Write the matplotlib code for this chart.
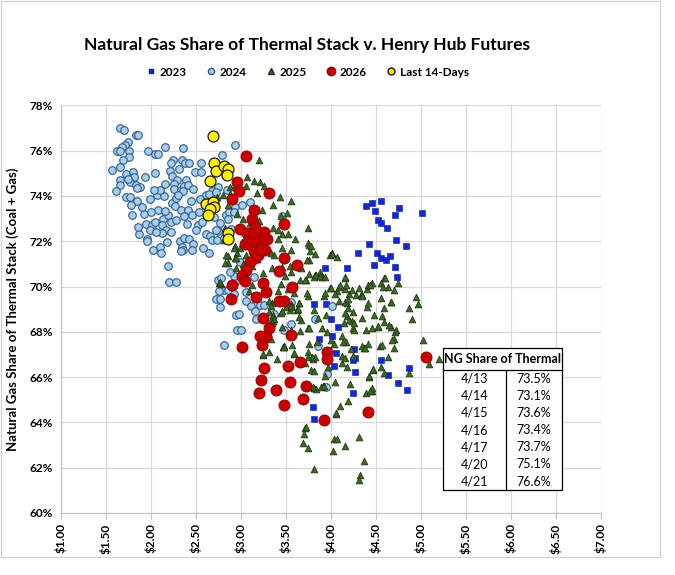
import matplotlib.pyplot as plt
import matplotlib.ticker as mtick
from matplotlib.patches import Rectangle
from matplotlib.lines import Line2D

plt.rcParams['font.family'] = ['Lato', 'DejaVu Sans']

# 2023 (squares)
p23 = [4.39, 4.46, 4.56, 4.49, 4.52, 4.56, 4.62, 4.71, 4.75, 5.01, 4.42, 4.72, 4.83, 4.30, 4.51,
       4.56, 4.61, 4.65, 4.48, 4.71, 4.73, 3.93, 4.18, 3.81, 3.94, 4.00, 4.08, 4.01, 3.87, 4.25,
       4.27, 4.05, 4.03, 4.24, 4.27, 4.24, 4.56, 4.63, 4.87, 4.74, 4.84, 3.80, 3.81]
s23 = [73.56, 73.67, 73.76, 73.33, 72.93, 72.79, 72.59, 73.14, 73.48, 73.26, 71.88, 72.04, 71.78, 71.48, 71.48,
       71.26, 71.16, 71.36, 70.93, 70.86, 70.40, 70.80, 70.80, 69.21, 69.21, 68.56, 68.22, 67.82, 67.70, 67.26,
       66.86, 67.05, 66.50, 66.76, 66.22, 65.30, 66.76, 66.10, 66.42, 65.74, 65.45, 64.69, 64.13]

# 2024 (light blue circles)
p24 = [1.65, 1.70, 1.83, 1.86, 1.74, 1.71, 1.68, 1.62, 1.66, 1.76, 1.76, 1.97, 2.04, 2.08, 2.15, 2.36, 2.24, 2.34,
       2.38, 2.42, 2.31, 2.22, 1.57, 1.66, 1.72, 1.80, 1.81, 1.66, 1.65, 1.61, 1.77, 1.83, 1.88, 1.84, 2.04, 2.21,
       2.23, 2.29, 2.39, 2.16, 2.25, 2.26, 2.33, 2.37, 2.41, 2.35, 2.49, 2.56, 2.56, 2.79, 2.93,
       1.72, 1.77, 1.84, 1.78, 1.79, 1.92, 2.07, 2.08, 1.94, 2.01, 1.99, 2.05, 2.13, 2.19, 2.23, 2.27, 2.33, 2.41,
       2.45, 2.37, 2.22, 2.12, 2.17, 2.22, 2.12, 1.96, 1.96, 2.02, 2.10, 2.11, 2.32, 2.37, 2.42, 2.47, 2.34, 2.36,
       2.33, 2.46, 2.58, 2.64, 2.61, 2.66, 2.68, 2.53, 2.61, 2.68, 2.74, 2.83, 2.87, 2.77, 2.74, 2.19, 2.20, 2.28,
       2.74, 2.81, 2.72, 2.77, 2.77, 2.94, 2.96, 2.81, 2.93,
       3.10, 3.45, 2.78, 2.75, 2.85, 2.92, 2.92, 3.06, 3.11, 3.21, 3.26, 3.17, 2.98, 3.00, 3.55, 3.48, 3.82, 4.01,
       3.86, 3.06, 3.16, 3.37, 3.96, 3.94, 3.56, 2.64, 2.72, 2.84, 2.93, 3.01, 2.92, 2.86, 2.72, 2.73, 2.81,
       1.90, 2.00, 2.14, 2.28, 1.87, 2.06, 2.18, 2.44,
       1.69, 1.74, 1.93, 2.10, 2.30, 2.47, 2.52, 1.99, 2.15, 2.28, 2.50, 2.57, 1.86, 2.03, 2.40, 2.55, 2.70, 2.89,
       2.99, 3.04, 2.88, 3.14]
s24 = [77.00, 76.90, 76.70, 76.70, 76.40, 76.25, 76.15, 76.00, 76.00, 76.00, 75.70, 76.00, 75.85, 75.85, 76.15, 76.10, 75.60, 75.60,
       75.45, 75.45, 75.20, 75.45, 75.15, 75.30, 74.95, 75.05, 74.85, 74.70, 74.50, 74.20, 74.60, 74.50, 74.40, 74.35, 75.00, 75.10,
       74.90, 74.70, 74.70, 74.55, 74.55, 74.30, 74.25, 74.45, 74.50, 74.20, 75.05, 75.05, 75.45, 75.80, 76.25,
       73.95, 73.95, 73.80, 73.60, 73.15, 73.20, 74.05, 73.40, 72.75, 72.70, 72.50, 72.85, 73.00, 73.15, 73.70, 73.55, 73.40, 73.40,
       73.15, 73.10, 72.85, 72.70, 72.50, 72.40, 72.35, 72.10, 72.00, 71.60, 71.75, 71.50, 72.00, 72.15, 72.10, 71.90, 71.75, 71.60,
       71.55, 71.60, 71.70, 71.50, 72.30, 72.25, 72.05, 73.30, 74.05, 74.20, 74.40, 73.15, 73.30, 72.80, 72.45, 70.90, 70.20, 70.20,
       70.30, 69.85, 69.45, 69.10, 69.45, 68.75, 68.10, 67.40, 70.20,
       73.74, 73.11, 70.38, 69.80, 69.84, 70.45, 69.65, 69.36, 69.14, 69.18, 69.20, 68.55, 68.77, 68.09, 68.34, 68.09, 68.55, 69.14,
       67.39, 69.78, 68.92, 68.81, 66.12, 65.56, 69.33, 74.10, 74.17, 74.25, 73.52, 73.60, 73.30, 73.00, 72.50, 72.06, 72.13,
       73.50, 73.30, 74.00, 73.90, 72.30, 72.40, 71.95, 73.80,
       75.60, 74.75, 74.85, 74.25, 74.05, 74.30, 72.70, 73.85, 73.35, 72.95, 72.50, 72.85, 72.65, 74.25, 72.75, 73.85, 73.05, 72.55,
       71.10, 70.85, 70.65, 70.40]

# 2025 (green triangles)
p25 = [3.20, 3.07, 3.14, 3.06, 3.21, 3.26, 3.18, 2.93, 3.43, 3.55, 3.36, 3.51, 3.44, 3.74, 3.35, 3.41, 3.45, 3.52,
       3.41, 3.60, 3.28, 3.33, 3.37, 3.45, 3.55, 3.74, 3.77, 3.75, 3.99, 4.07, 3.88, 3.82, 3.72, 3.65, 3.54, 3.56,
       3.49, 3.65, 3.34, 3.46, 3.52, 3.59, 3.55, 3.64, 3.62, 3.44, 3.35, 3.34, 3.41, 3.74, 3.74, 3.66, 3.90, 3.96,
       3.92, 3.99, 4.07, 4.15, 4.20, 4.28, 4.33, 4.18, 4.18, 4.14, 4.23, 4.24, 4.35, 2.93, 2.95, 2.85, 2.86, 2.93,
       2.78, 3.12, 3.48, 3.40, 3.31, 3.74, 3.82, 4.12, 4.24, 4.18,
       2.73, 2.80, 2.88, 2.81, 2.83, 2.82, 2.76, 2.94, 2.92, 2.94,
       4.94, 4.90, 4.87, 4.67, 4.59, 4.57, 4.52, 4.67, 4.70, 4.63, 4.56, 4.47, 4.42, 4.39, 4.46, 4.37, 4.17, 4.21,
       4.19, 4.06, 3.93, 4.04, 3.97, 3.80, 3.78, 3.91, 3.71, 3.59, 3.57, 3.47, 3.24, 3.33, 3.35, 3.31, 3.46, 3.56,
       3.75, 4.00, 4.13, 4.41, 4.25, 4.12, 4.20, 4.39, 4.35, 4.48, 4.40, 4.24, 4.19, 4.16, 4.09, 4.19, 3.94, 3.81,
       3.85, 3.67, 3.64, 3.54, 3.50, 3.64, 3.73, 3.93, 4.04, 4.09, 4.17, 4.31, 4.34, 4.40, 4.41, 4.45, 4.59, 4.55,
       4.63, 4.70, 4.74, 3.81, 3.90, 4.16, 3.75, 3.73, 3.75, 4.01, 3.67, 3.71, 3.57, 3.76, 3.79, 3.71, 3.89,
       3.72, 3.70, 3.69, 3.74, 4.03, 4.07, 4.02, 4.15, 4.31, 4.10, 4.06, 4.45, 4.43, 3.81, 3.83, 3.92, 4.37, 4.32,
       4.31, 3.81, 4.42, 4.59, 4.87, 4.70, 4.54, 4.57, 5.02, 5.09, 5.20, 4.38, 4.22, 4.12, 4.15, 4.03, 3.84, 3.81,
       3.59, 4.47, 4.71,
       2.77, 3.09, 3.31, 3.33, 3.37, 3.34, 3.33, 3.24, 3.48, 3.74, 3.80, 3.44, 3.56, 3.63, 3.46,
       2.88, 2.85, 2.95, 3.02, 2.82, 2.86, 3.10, 3.20, 3.23, 2.99, 3.06, 3.02, 3.12, 3.18, 3.24,
       4.97, 3.78, 3.82, 4.01, 4.16, 3.83, 3.88, 3.93, 4.00, 4.10, 4.23, 4.34, 4.43, 4.60, 4.58, 4.55,
       4.67, 4.41, 4.15, 4.25, 4.45, 4.52, 4.59, 4.64, 4.72, 4.68]
s25 = [75.59, 74.86, 74.66, 74.42, 74.61, 74.42, 74.13, 74.47, 73.96, 73.78, 73.59, 73.26, 73.11, 72.60, 72.57, 72.50, 72.31, 72.32,
       72.09, 72.09, 71.80, 71.47, 71.40, 71.69, 71.62, 71.91, 71.55, 71.18, 71.40, 71.30, 70.63, 70.53, 70.31, 70.31, 70.92, 70.63,
       70.48, 70.92, 70.82, 70.86, 69.87, 69.72, 69.21, 69.28, 68.95, 68.85, 68.48, 69.28, 69.80, 69.58, 68.15, 68.04, 68.19, 68.00,
       69.58, 69.94, 69.80, 69.91, 69.69, 69.62, 69.62, 69.28, 68.70, 68.41, 68.48, 68.19, 67.36, 71.80, 71.47, 71.33, 71.04, 71.26,
       70.13, 70.06, 67.39, 66.80, 67.10, 67.10, 66.88, 66.95, 66.95, 66.44,
       73.97, 74.05, 74.41, 72.06, 71.40, 71.03, 70.15, 71.25, 71.70, 70.80,
       69.56, 68.55, 69.04, 69.33, 69.04, 68.70, 68.22, 68.22, 67.70, 66.89, 66.44, 66.30, 66.00, 65.30, 65.38, 67.30, 67.56, 65.70,
       64.96, 64.37, 66.04, 65.78, 66.44, 66.81, 66.30, 65.63, 63.75, 67.04, 67.41, 67.33, 66.96, 68.52, 68.74, 68.89, 68.22, 68.07,
       68.15, 67.63, 67.56, 67.48, 68.07, 67.81, 68.52, 68.07, 68.59, 68.74, 69.08, 68.89, 69.04, 69.33, 69.38, 69.44, 68.74, 68.96,
       68.63, 68.52, 68.67, 68.96, 69.11, 69.26, 69.70, 69.70, 69.66, 69.97, 70.07, 69.93, 69.63, 69.88, 70.07, 70.15, 70.37, 70.15,
       70.00, 69.85, 70.15, 70.44, 70.40, 70.37, 70.55, 71.19, 71.85, 71.48, 70.81, 70.30, 69.11, 67.48, 66.89, 66.62, 65.56,
       63.81, 63.50, 63.07, 62.85, 63.26, 63.26, 62.74, 62.96, 63.37, 64.72, 64.42, 65.52, 65.40, 65.52, 65.47, 65.62, 62.31, 61.69,
       61.47, 61.94, 66.03, 66.18, 66.18, 67.27, 67.37, 67.42, 67.66, 66.58, 66.80, 67.27, 67.24, 66.61, 66.86, 67.45, 67.56, 66.29,
       67.08, 66.35, 68.00,
       70.19, 69.79, 69.35, 69.16, 68.56, 68.41, 67.67, 67.00, 67.33, 66.90, 65.57, 70.12, 69.16, 69.00, 68.93,
       74.10, 73.60, 73.20, 73.00, 72.60, 72.30, 72.80, 72.90, 73.40, 71.70, 71.40, 71.00, 70.90, 71.20, 70.60,
       69.23, 71.80, 71.44, 71.44, 70.44, 70.52, 70.47, 70.44, 69.93, 70.07, 69.85, 69.60, 70.07, 70.37, 69.97, 69.48,
       69.33, 69.26, 68.84, 68.37, 68.15, 68.27, 68.44, 68.30, 68.07, 67.66]

# 2026 (red circles)
p26 = [3.05, 2.95, 2.98, 3.31, 2.90, 3.14, 3.12, 3.15, 2.99, 3.07, 3.26, 3.29, 3.48, 3.04, 3.08, 3.17, 3.23, 3.14,
       3.19, 3.15, 3.10, 3.27, 3.48, 3.62, 3.06, 3.42, 3.01, 3.04, 3.24, 2.90, 3.57, 3.17, 3.28, 2.89, 3.42, 3.48,
       3.24, 3.31, 3.28, 3.21, 3.55, 3.23, 3.01, 3.96, 3.96, 3.65, 3.52, 3.26, 3.22, 3.20, 3.39, 3.54, 3.72, 3.69,
       3.48, 3.92, 4.41, 5.06, 3.11, 3.20, 3.13, 3.22, 3.16]
s26 = [75.75, 74.60, 74.20, 74.15, 73.85, 73.40, 73.00, 72.65, 72.55, 72.35, 72.40, 72.10, 72.75, 71.90, 72.00, 71.75, 71.90, 71.55,
       71.40, 71.25, 71.10, 71.60, 71.25, 70.95, 70.75, 70.70, 70.45, 70.25, 70.15, 70.05, 70.00, 69.55, 69.75, 69.45, 69.35, 69.35,
       68.60, 68.15, 67.80, 67.80, 67.85, 67.40, 67.35, 67.10, 66.80, 66.65, 66.50, 66.40, 65.88, 65.29, 65.44, 65.78, 65.63, 65.04,
       64.79, 64.12, 64.47, 66.90, 71.85, 72.20, 72.05, 71.60, 72.35]

# last 14 days (yellow)
p14 = [2.69, 2.70, 2.72, 2.81, 2.86, 2.84, 2.66, 2.61, 2.69, 2.70, 2.65, 2.63, 2.86, 2.86]
s14 = [76.63, 75.44, 75.10, 75.32, 75.18, 74.93, 74.66, 73.63, 73.72, 73.53, 73.43, 73.16, 72.35, 72.09]

tbl_dates = ['4/13', '4/14', '4/15', '4/16', '4/17', '4/20', '4/21']
tbl_vals = ['73.5%', '73.1%', '73.6%', '73.4%', '73.7%', '75.1%', '76.6%']

fig = plt.figure(figsize=(6.75, 5.75), dpi=100)
ax = fig.add_axes([61/675, 1-513/575, 540/675, 407.6/575])

ax.scatter(p23, s23, s=15, marker='s', c='#1228D8', edgecolors='#0A1A9A', linewidths=0.4, zorder=3)
ax.scatter(p24, s24, s=30, marker='o', c='#A9CDEB', edgecolors='#2B5E8E', linewidths=0.8, zorder=3)
ax.scatter(p25, s25, s=24, marker='^', c='#3B6A22', edgecolors='#1B2E10', linewidths=0.5, zorder=3)
ax.scatter(p26, s26, s=64, marker='o', c='#C80000', edgecolors='#8E0000', linewidths=0.6, zorder=4)
ax.scatter(p14, s14, s=62, marker='o', c='#FFF200', edgecolors='#1a1a1a', linewidths=0.9, zorder=5)

ax.set_xlim(1, 7)
ax.set_ylim(60, 78)
ax.set_xticks([1 + 0.5*i for i in range(13)])
ax.set_yticks(range(60, 79, 2))
ax.xaxis.set_major_formatter(mtick.FuncFormatter(lambda v, p: '$%.2f' % v))
ax.yaxis.set_major_formatter(mtick.FuncFormatter(lambda v, p: '%d%%' % v))
ax.grid(True, color='#D9D9D9', linewidth=0.9, zorder=0)
ax.set_axisbelow(True)
for sp in ['top', 'right']:
    ax.spines[sp].set_visible(False)
for sp in ['left', 'bottom']:
    ax.spines[sp].set_color('#BFBFBF')
ax.tick_params(axis='x', rotation=90, length=4, color='#BFBFBF', labelsize=8.5)
ax.tick_params(axis='y', length=0, labelsize=8.5, pad=6)
for lab in ax.get_xticklabels() + ax.get_yticklabels():
    lab.set_fontweight('bold')
ax.set_ylabel('Natural Gas Share of Thermal Stack (Coal + Gas)', fontsize=9.5, fontweight='bold', labelpad=7)

# table box
tx0, tx1, ty0, ty1 = 0.707, 0.928, 0.056, 0.405
hy = 0.351
dx = 0.824
ax.add_patch(Rectangle((tx0, ty0), tx1-tx0, ty1-ty0, transform=ax.transAxes,
                       facecolor='white', edgecolor='black', linewidth=0.9, zorder=10))
ax.plot([tx0, tx1], [hy, hy], transform=ax.transAxes, color='black', lw=0.9, zorder=11)
ax.plot([dx, dx], [ty0, hy], transform=ax.transAxes, color='black', lw=0.9, zorder=11)
ax.text((tx0+tx1)/2, (hy+ty1)/2, 'NG Share of Thermal', transform=ax.transAxes, ha='center', va='center',
        fontsize=9, fontweight='bold', zorder=12)
rh = (hy - ty0) / len(tbl_dates)
for i, (d, v) in enumerate(zip(tbl_dates, tbl_vals)):
    yy = hy - rh*(i+0.5)
    ax.text((tx0+dx)/2, yy, d, transform=ax.transAxes, ha='center', va='center', fontsize=9, zorder=12)
    ax.text((dx+tx1)/2, yy, v, transform=ax.transAxes, ha='center', va='center', fontsize=9, zorder=12)

fig.text(307/675, 1-45/575, 'Natural Gas Share of Thermal Stack v. Henry Hub Futures',
         ha='center', va='center', fontsize=12.5, fontweight='bold')

handles = [
    Line2D([], [], ls='none', marker='s', ms=3.5, mfc='#1228D8', mec='#0A1A9A', label='2023'),
    Line2D([], [], ls='none', marker='o', ms=4.5, mfc='#A9CDEB', mec='#2B5E8E', label='2024'),
    Line2D([], [], ls='none', marker='^', ms=4.5, mfc='#3B6A22', mec='#1B2E10', label='2025'),
    Line2D([], [], ls='none', marker='o', ms=6, mfc='#C80000', mec='#8E0000', label='2026'),
    Line2D([], [], ls='none', marker='o', ms=5, mfc='#FFF200', mec='#1a1a1a', label='Last 14-Days'),
]
leg = fig.legend(handles=handles, loc='center', bbox_to_anchor=(307/675, 1-72/575), ncol=5, frameon=False,
                 fontsize=8.5, handletextpad=0.2, columnspacing=1.6, handlelength=1.0)
for t in leg.get_texts():
    t.set_fontweight('bold')

fig.add_artist(Rectangle((0.002, 1-557/575), 659/675, 556/575, transform=fig.transFigure,
                         fill=False, edgecolor='#D0D0D0', linewidth=0.8))

fig.savefig('out.png', dpi=100)
